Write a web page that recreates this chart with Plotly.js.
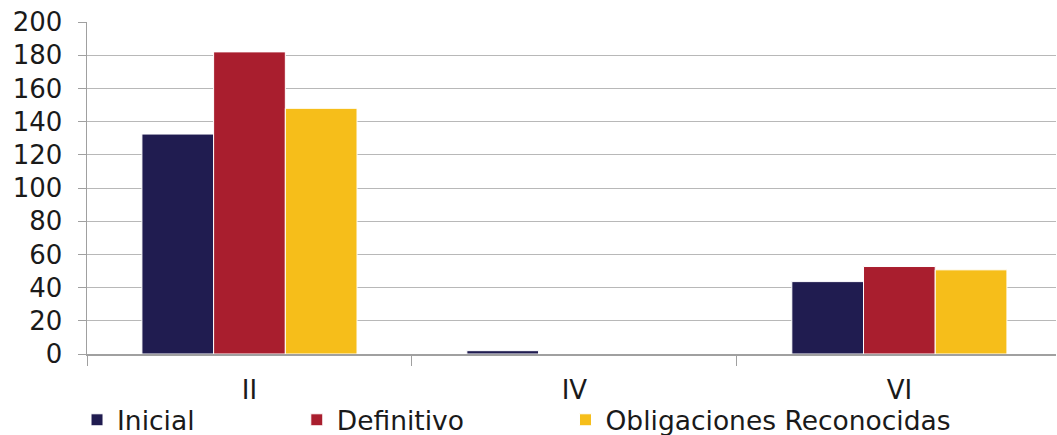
<!DOCTYPE html>
<html><head><meta charset="utf-8">
<script src="https://cdn.plot.ly/plotly-3.0.1.min.js"></script>
<style>html,body{margin:0;padding:0;background:#fff}#chart{width:1057px;height:435px}</style>
</head><body><div id="chart"></div>
<script>
const categories = ["II", "IV", "VI"];
const inicial = [132.5, 2.0, 43.6];
const definitivo = [182.0, 0, 52.7];
const obligaciones = [148.0, 0, 50.7];
const seriesNames = ["Inicial", "Definitivo", "Obligaciones Reconocidas"];
const colors = ["#201C50", "#A91E2E", "#F6BE1A"];
const font = "'DejaVu Sans', sans-serif";

const vals = [inicial, definitivo, obligaciones];
const legendIds = ["legend", "legend2", "legend3"];
const traces = vals.map((v, i) => ({
  type: "bar", x: categories, y: v, name: seriesNames[i],
  marker: {color: colors[i], line: {color: "#ffffff", width: 1}},
  legend: legendIds[i], hoverinfo: "x+y+name"
}));
const legStyle = (x) => ({orientation: "h", x: x, y: -0.199, xref: "paper", yref: "paper",
  xanchor: "left", yanchor: "middle", font: {family: font, size: 26.5, color: "#1a1a1a"},
  bgcolor: "rgba(0,0,0,0)", itemwidth: 30, tracegroupgap: 0});

const layout = {
  width: 1057, height: 435,
  margin: {l: 87, r: 1, t: 22, b: 81, autoexpand: false},
  paper_bgcolor: "#fff", plot_bgcolor: "#fff",
  barmode: "group", bargap: 0.338, bargroupgap: 0,
  font: {family: font, size: 26, color: "#1a1a1a"},
  xaxis: {type: "category", range: [-0.5, 2.482], showline: true, linecolor: "#a0a0a0", linewidth: 1.5,
    ticks: "outside", tickson: "boundaries", ticklen: 10, tickcolor: "#a0a0a0",
    ticklabelstandoff: 12,
    tickfont: {family: font, size: 26, color: "#1a1a1a"}, showgrid: false},
  yaxis: {range: [0, 200], dtick: 20, showline: true, linecolor: "#a0a0a0", linewidth: 1.5,
    ticks: "outside", ticklen: 8, tickcolor: "#a0a0a0", gridcolor: "#b8b8b8", gridwidth: 1,
    ticklabelstandoff: 10,
    zeroline: false, tickfont: {family: font, size: 26, color: "#1a1a1a"}},
  showlegend: true,
  legend: legStyle(-0.0103),
  legend2: legStyle(0.2165),
  legend3: legStyle(0.4938)
};
Plotly.newPlot("chart", traces, layout, {displayModeBar: false, staticPlot: true});
</script></body></html>
